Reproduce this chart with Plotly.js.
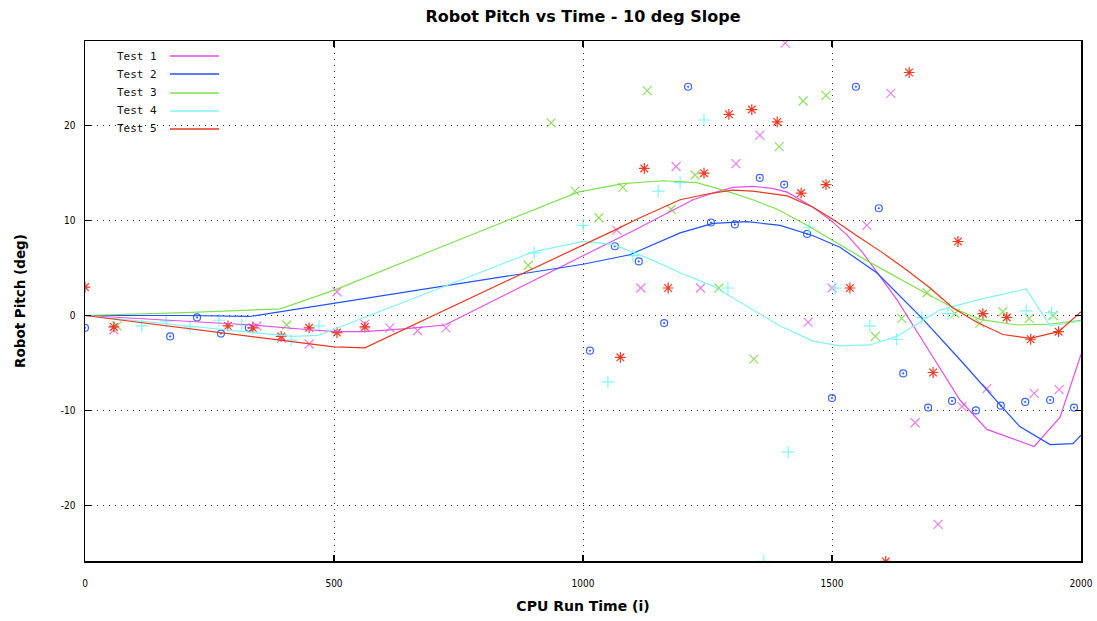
<!DOCTYPE html>
<html>
<head>
<meta charset="utf-8">
<script src="https://cdn.plot.ly/plotly-3.0.1.min.js"></script>
<style>html,body{margin:0;padding:0;background:#fff;}#chart{width:1097px;height:621px;}</style>
</head>
<body>
<div id="chart"></div>
<script>
// ---- Data ----
const testNames = ["Test 1", "Test 2", "Test 3", "Test 4", "Test 5"];
const xTicks = [0, 500, 1000, 1500, 2000];
const yTicks = [-20, -10, 0, 10, 20];

// raw samples (markers)
const t1PtsX = [58, 345, 395, 450, 506, 562, 612, 668, 725, 1068, 1116, 1187, 1236, 1307, 1355, 1406, 1452, 1500, 1570, 1618, 1667, 1713, 1761, 1811, 1906, 1956];
const t1PtsY = [-1.5, -1.1, -2.4, -3.0, 2.5, -0.9, -1.3, -1.6, -1.3, 9.0, 2.9, 15.7, 2.9, 16.0, 19.0, 28.7, -0.7, 2.9, 9.5, 23.4, -11.3, -22.0, -9.6, -7.7, -8.2, -7.8];

const t2PtsX = [0, 171, 225, 273, 329, 1014, 1064, 1112, 1163, 1211, 1257, 1305, 1355, 1404, 1450, 1500, 1548, 1594, 1643, 1693, 1741, 1789, 1839, 1888, 1938, 1986];
const t2PtsY = [-1.3, -2.2, -0.2, -1.9, -1.3, -3.7, 7.3, 5.7, -0.8, 24.1, 9.8, 9.6, 14.5, 13.8, 8.6, -8.7, 24.1, 11.3, -6.1, -9.7, -9.0, -10.0, -9.5, -9.1, -8.9, -9.7];

const t3PtsX = [64, 405, 890, 936, 984, 1032, 1080, 1129, 1177, 1225, 1273, 1343, 1394, 1442, 1488, 1587, 1640, 1691, 1747, 1797, 1843, 1896, 1944];
const t3PtsY = [-1.1, -1.0, 5.3, 20.3, 13.1, 10.3, 13.5, 23.7, 11.2, 14.8, 2.9, -4.6, 17.8, 22.6, 23.2, -2.2, -0.3, 2.4, 0.2, -0.8, 0.4, -0.3, 0.0];

const t4PtsX = [114, 163, 211, 269, 315, 414, 470, 902, 1000, 1050, 1100, 1151, 1195, 1243, 1291, 1363, 1412, 1454, 1506, 1576, 1630, 1680, 1733, 1890, 1941];
const t4PtsY = [-1.1, -0.6, -1.2, -0.5, -1.0, -2.6, -1.1, 6.6, 9.5, -7.0, 6.3, 13.1, 14.0, 20.6, 2.9, -25.9, -14.4, 9.3, 2.9, -1.1, -2.5, -0.2, 0.2, 0.5, 0.3];

const t5PtsX = [0, 58, 287, 337, 394, 450, 506, 562, 1075, 1123, 1171, 1243, 1293, 1339, 1390, 1438, 1488, 1536, 1608, 1655, 1703, 1753, 1803, 1851, 1899, 1955];
const t5PtsY = [3.0, -1.2, -1.1, -1.3, -2.2, -1.3, -1.8, -1.2, -4.4, 15.5, 2.9, 15.0, 21.2, 21.7, 20.4, 12.9, 13.8, 2.9, -25.9, 25.6, -6.0, 7.8, 0.2, -0.2, -2.5, -1.7];

// smoothed curves
const t1LineX = [0, 100, 225, 337, 450, 502, 562, 640, 723, 900, 1000, 1100, 1180, 1221, 1260, 1301, 1341, 1380, 1410, 1462, 1496, 1530, 1562, 1630, 1697, 1757, 1811, 1906, 1958, 2000];
const t1LineY = [0, -0.3, -0.6, -1.0, -1.5, -1.7, -1.7, -1.4, -1.0, 3.7, 6.3, 8.9, 11.1, 12.2, 12.9, 13.5, 13.6, 13.4, 13.0, 11.4, 10.1, 8.5, 6.6, 1.7, -3.9, -8.9, -12.0, -13.8, -10.7, -4.1];

const t2LineX = [0, 100, 200, 331, 500, 700, 900, 1000, 1094, 1195, 1261, 1329, 1396, 1462, 1516, 1590, 1683, 1763, 1839, 1877, 1938, 1984, 2000];
const t2LineY = [0, 0, 0, -0.1, 1.3, 2.9, 4.6, 5.4, 6.4, 8.7, 9.7, 9.9, 9.5, 8.4, 7.2, 4.5, -0.4, -5.0, -9.5, -11.7, -13.6, -13.5, -12.6];

const t3LineX = [0, 200, 392, 502, 700, 900, 990, 1080, 1161, 1229, 1295, 1341, 1390, 1450, 1496, 1576, 1683, 1751, 1797, 1871, 1938, 2000];
const t3LineY = [0, 0.3, 0.7, 2.7, 6.9, 11.1, 13.0, 13.9, 14.2, 14.0, 13.0, 12.2, 11.2, 9.5, 8.1, 5.6, 2.5, 0.6, -0.4, -1.0, -0.9, -0.5];

const t4LineX = [0, 415, 468, 600, 750, 900, 1000, 1060, 1128, 1195, 1261, 1329, 1396, 1462, 1516, 1576, 1630, 1717, 1797, 1890, 1938, 2000];
const t4LineY = [0, -2.2, -2.1, 0.6, 3.7, 6.7, 7.8, 7.5, 6.1, 4.5, 3.1, 1.0, -1.1, -2.7, -3.2, -3.1, -2.2, 0.6, 1.7, 2.8, -1.1, -0.6];

const t5LineX = [0, 500, 562, 700, 800, 900, 1000, 1068, 1110, 1151, 1195, 1250, 1300, 1341, 1410, 1462, 1500, 1550, 1602, 1650, 1697, 1743, 1791, 1843, 1898, 1955, 2000];
const t5LineY = [0, -3.3, -3.4, 0.0, 2.5, 5.0, 7.4, 9.1, 10.2, 11.2, 12.2, 12.8, 13.2, 13.1, 12.6, 11.4, 10.2, 8.4, 6.6, 4.8, 2.9, 0.8, -0.7, -2.0, -2.4, -1.7, 0.4];

// ---- Styles ----
const lineColors = ["#e050e8", "#1f50ff", "#80e050", "#80f4f4", "#e8381f"];
const markerColors = ["#e880ee", "#3a66ff", "#8fe060", "#80f8f8", "#ee3a22"];
const markerSymbols = ["x-thin-open", "circle-open-dot", "x-thin-open", "cross-thin-open", "asterisk-open"];
const markerSizes = [9, 7, 9, 9, 9];

const ptsX = [t1PtsX, t2PtsX, t3PtsX, t4PtsX, t5PtsX];
const ptsY = [t1PtsY, t2PtsY, t3PtsY, t4PtsY, t5PtsY];
const lineX = [t1LineX, t2LineX, t3LineX, t4LineX, t5LineX];
const lineY = [t1LineY, t2LineY, t3LineY, t4LineY, t5LineY];

const traces = [];
for (let i = 0; i < 5; i++) {
  traces.push({
    type: "scatter", mode: "markers", x: ptsX[i], y: ptsY[i], showlegend: false,
    name: testNames[i] + " data", hoverinfo: "x+y",
    marker: { symbol: markerSymbols[i], size: markerSizes[i], color: markerColors[i],
              line: { color: markerColors[i], width: 1.2 } }
  });
}
for (let i = 0; i < 5; i++) {
  traces.push({
    type: "scatter", mode: "lines", x: lineX[i], y: lineY[i], name: testNames[i],
    showlegend: false, line: { color: lineColors[i], width: 1.2 }
  });
}

// plot area in pixels: x 85..1081, y 41..561
const L = 85, R = 1081, T = 41, B = 561;
const px2paperX = p => (p - L) / (R - L);
const px2paperY = p => (B - p) / (B - T);
const legendRowsPx = [56, 74, 93, 111, 129];

const annotations = [];
const shapes = [];
for (let i = 0; i < 5; i++) {
  annotations.push({
    xref: "paper", yref: "paper", x: px2paperX(159), y: px2paperY(legendRowsPx[i]),
    xanchor: "right", yanchor: "middle", showarrow: false, text: testNames[i],
    font: { family: "DejaVu Sans Mono, monospace", size: 11, color: "#111" }
  });
  shapes.push({
    type: "line", xref: "paper", yref: "paper",
    x0: px2paperX(170), x1: px2paperX(219),
    y0: px2paperY(legendRowsPx[i]), y1: px2paperY(legendRowsPx[i]),
    line: { color: lineColors[i], width: i === 1 ? 1.6 : 1.3 }
  });
}

const axisCommon = {
  showgrid: true, gridcolor: "#333", griddash: "1px,5px", gridwidth: 1,
  zeroline: false, showline: true, linecolor: "#000", linewidth: 1.5,
  mirror: "ticks", ticks: "inside", ticklen: 6, tickwidth: 1.5, tickcolor: "#000",
  tickfont: { family: "Liberation Sans Narrow, DejaVu Sans Condensed, sans-serif", size: 10, color: "#000" }
};

const layout = {
  width: 1097, height: 621, autosize: false,
  margin: { l: L, r: 1097 - R, t: T, b: 621 - B, pad: 0 },
  paper_bgcolor: "#fff", plot_bgcolor: "#fff",
  showlegend: false,
  title: {
    text: "Robot Pitch vs Time - 10 deg Slope",
    font: { family: "DejaVu Sans, sans-serif", size: 16, weight: "bold", color: "#000" },
    xref: "paper", x: 0.5, xanchor: "center",
    yref: "container", y: 1 - 16 / 621, yanchor: "middle"
  },
  xaxis: Object.assign({}, axisCommon, {
    range: [0, 2000], tickvals: xTicks, ticktext: xTicks.map(String),
    ticklabelstandoff: 12,
    title: { text: "CPU Run Time (i)", standoff: 13,
             font: { family: "DejaVu Sans, sans-serif", size: 14, weight: "bold", color: "#000" } }
  }),
  yaxis: Object.assign({}, axisCommon, {
    range: [-25.86, 28.92], tickvals: yTicks, ticktext: yTicks.map(String),
    ticklabelstandoff: 6,
    title: { text: "Robot Pitch (deg)", standoff: 32,
             font: { family: "DejaVu Sans, sans-serif", size: 13.5, weight: "bold", color: "#000" } }
  }),
  annotations: annotations,
  shapes: shapes
};

Plotly.newPlot("chart", traces, layout, { displayModeBar: false, staticPlot: true });
</script>
</body>
</html>
